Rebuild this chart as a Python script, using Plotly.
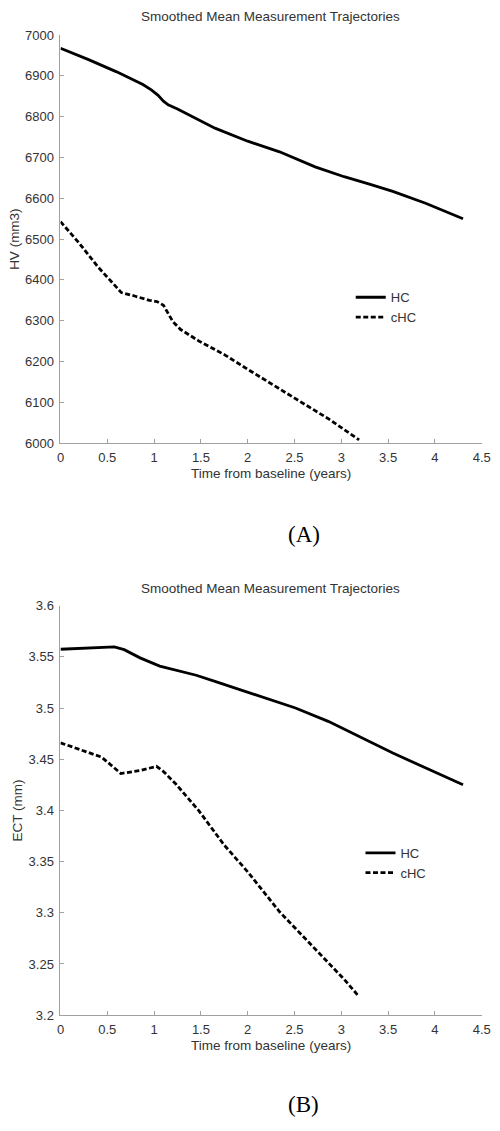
import plotly.graph_objects as go

# ---- Data ----
title_text = "Smoothed Mean Measurement Trajectories"
x_title = "Time from baseline (years)"

# Panel A: hippocampal volume (HV, mm3)
hv_hc_x = [0.0, 0.3, 0.6, 0.77, 0.88, 0.97, 1.04, 1.1, 1.15, 1.25, 1.4, 1.65, 2.0, 2.34, 2.72, 3.03, 3.3, 3.55, 3.9, 4.3]
hv_hc_y = [6968, 6940, 6910, 6891, 6879, 6866, 6853, 6838, 6829, 6819, 6802, 6772, 6740, 6714, 6677, 6653, 6635, 6617, 6588, 6550]
hv_chc_x = [0.0, 0.2, 0.4, 0.55, 0.65, 0.8, 0.95, 1.03, 1.1, 1.2, 1.28, 1.48, 1.75, 2.0, 2.25, 2.51, 2.86, 3.19]
hv_chc_y = [6543, 6490, 6432, 6395, 6369, 6360, 6350, 6347, 6338, 6298, 6279, 6250, 6217, 6181, 6145, 6109, 6060, 6008]

# Panel B: entorhinal cortical thickness (ECT, mm)
ect_hc_x = [0.0, 0.3, 0.575, 0.68, 0.85, 1.06, 1.23, 1.45, 1.65, 2.17, 2.51, 2.86, 3.21, 3.55, 4.3]
ect_hc_y = [3.5574, 3.5585, 3.5597, 3.557, 3.549, 3.541, 3.537, 3.532, 3.526, 3.510, 3.500, 3.487, 3.471, 3.456, 3.425]
ect_chc_x = [0.0, 0.44, 0.645, 0.85, 1.025, 1.1, 1.23, 1.475, 1.75, 2.0, 2.34, 2.69, 3.03, 3.19]
ect_chc_y = [3.466, 3.452, 3.436, 3.439, 3.443, 3.438, 3.426, 3.400, 3.366, 3.340, 3.301, 3.268, 3.235, 3.218]

series_names = ["HC", "cHC"]

x_ticks = [0, 0.5, 1, 1.5, 2, 2.5, 3, 3.5, 4, 4.5]
x_ticktext = ["0", "0.5", "1", "1.5", "2", "2.5", "3", "3.5", "4", "4.5"]
hv_ticks = [6000, 6100, 6200, 6300, 6400, 6500, 6600, 6700, 6800, 6900, 7000]
hv_ticktext = ["6000", "6100", "6200", "6300", "6400", "6500", "6600", "6700", "6800", "6900", "7000"]
ect_ticks = [3.2, 3.25, 3.3, 3.35, 3.4, 3.45, 3.5, 3.55, 3.6]
ect_ticktext = ["3.2", "3.25", "3.3", "3.35", "3.4", "3.45", "3.5", "3.55", "3.6"]

# ---- Figure ----
W, H = 500, 1131
FONT = "Liberation Sans, Arial, sans-serif"
AX = "#a0a0a0"
TXT = "#333333"

fig = go.Figure()

solid = dict(color="black", width=2.8)
dashed = dict(color="black", width=2.8, dash="5px,2.5px")

fig.add_trace(go.Scatter(x=hv_hc_x, y=hv_hc_y, mode="lines", line=solid, name=series_names[0],
                         xaxis="x", yaxis="y", legend="legend"))
fig.add_trace(go.Scatter(x=hv_chc_x, y=hv_chc_y, mode="lines", line=dashed, name=series_names[1],
                         xaxis="x", yaxis="y", legend="legend"))
fig.add_trace(go.Scatter(x=ect_hc_x, y=ect_hc_y, mode="lines", line=solid, name=series_names[0],
                         xaxis="x2", yaxis="y2", legend="legend2"))
fig.add_trace(go.Scatter(x=ect_chc_x, y=ect_chc_y, mode="lines", line=dashed, name=series_names[1],
                         xaxis="x2", yaxis="y2", legend="legend2"))

def py(px):
    return 1 - px / H

xdom = [58 / W, 490.5 / W]
common_x = dict(range=[0, 4.5], tickvals=x_ticks, ticktext=x_ticktext, showline=True, linecolor=AX,
                linewidth=1, ticks="inside", ticklen=4, tickcolor=AX, showgrid=False, zeroline=False,
                tickfont=dict(family=FONT, size=13, color=TXT), ticklabelstandoff=2,
                title=dict(text=x_title, font=dict(family=FONT, size=13.5, color=TXT), standoff=4),
                domain=xdom, fixedrange=True)
common_y = dict(showline=True, linecolor=AX, linewidth=1, ticks="inside", ticklen=4, tickcolor=AX,
                showgrid=False, zeroline=False, tickfont=dict(family=FONT, size=13, color=TXT),
                ticklabelstandoff=3, fixedrange=True)

fig.update_layout(
    width=W, height=H,
    margin=dict(l=0, r=0, t=0, b=0),
    paper_bgcolor="white", plot_bgcolor="white",
    font=dict(family=FONT, size=13, color=TXT),
    xaxis=dict(**common_x, anchor="y"),
    yaxis=dict(**common_y, range=[6000, 7000], tickvals=hv_ticks, ticktext=hv_ticktext,
               domain=[py(442), py(28.5)], anchor="x",
               title=dict(text="HV (mm3)", font=dict(family=FONT, size=13.5, color=TXT), standoff=2)),
    xaxis2=dict(**common_x, anchor="y2"),
    yaxis2=dict(**common_y, range=[3.2, 3.6], tickvals=ect_ticks, ticktext=ect_ticktext,
                domain=[py(1021.7), py(606.7)], anchor="x2",
                title=dict(text="ECT (mm)", font=dict(family=FONT, size=13.5, color=TXT), standoff=2)),
    legend=dict(x=356 / W, y=py(279), xanchor="left", yanchor="top", bgcolor="rgba(0,0,0,0)",
                font=dict(family=FONT, size=13, color=TXT), itemwidth=30, tracegroupgap=0),
    legend2=dict(x=366 / W, y=py(842), xanchor="left", yanchor="top", bgcolor="rgba(0,0,0,0)",
                 font=dict(family=FONT, size=13, color=TXT), itemwidth=30, tracegroupgap=0),
    showlegend=True,
)

annotations = [
    dict(text=title_text, x=274 / W, y=py(10), xref="paper", yref="paper", showarrow=False,
         font=dict(family=FONT, size=13.5, color=TXT), xanchor="center", yanchor="middle"),
    dict(text=title_text, x=274 / W, y=py(589), xref="paper", yref="paper", showarrow=False,
         font=dict(family=FONT, size=13.5, color=TXT), xanchor="center", yanchor="middle"),
    dict(text="(A)", x=308 / W, y=py(535), xref="paper", yref="paper", showarrow=False,
         font=dict(family="Liberation Serif, Times New Roman, serif", size=23, color="black"),
         xanchor="center", yanchor="middle"),
    dict(text="(B)", x=308 / W, y=py(1112), xref="paper", yref="paper", showarrow=False,
         font=dict(family="Liberation Serif, Times New Roman, serif", size=23, color="black"),
         xanchor="center", yanchor="middle"),
]
fig.update_layout(annotations=annotations)

fig.write_html("out.html", config={"displayModeBar": False},
               post_script="document.body.style.margin='0';document.body.style.overflow='hidden';")
